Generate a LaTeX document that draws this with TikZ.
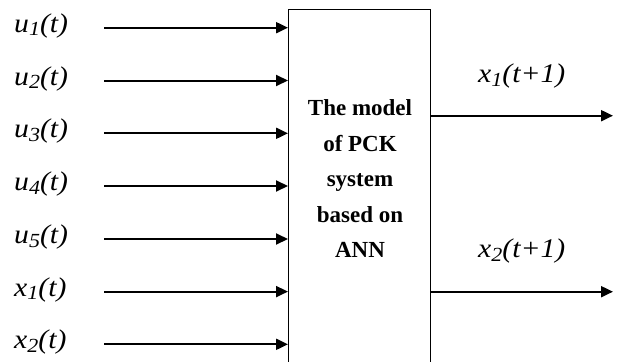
\documentclass[tikz,border=0pt]{standalone}
\usepackage{fontspec}
\setmainfont{Liberation Serif}
\newfontfamily\widefont[FakeStretch=1.1]{Liberation Serif}
\newcommand{\sbs}[1]{\raisebox{-3.5pt}{\fontsize{20}{20}\selectfont #1}}
\usetikzlibrary{arrows.meta}
\begin{document}
\begin{tikzpicture}[x=1pt,y=-1pt,
  lbl/.style={anchor=base west,inner sep=0pt,font=\widefont\fontsize{27}{29}\selectfont\itshape},
  arr/.style={line width=2pt,-{Triangle[length=12pt,width=11pt]}},
  modelbox/.style={draw,line width=1pt,minimum width=142pt,minimum height=360pt,anchor=north west,inner sep=0pt}]
\useasboundingbox (0,0) rectangle (617,361);
\clip (0,0) rectangle (617,361);
\fill[white] (0,0) rectangle (617,361);
\node[modelbox] (box) at (288,9.5) {};
\node[align=center,inner sep=0pt,font=\fontsize{23}{35.5}\selectfont\bfseries] (txt) at (360,179)
  {The model\\of PCK\\system\\based on\\ANN};
% inputs
\foreach \n/\y/\lab in {a/27.7/u\sbs{1}(t), b/80.5/u\sbs{2}(t), c/133.3/u\sbs{3}(t), d/186/u\sbs{4}(t), e/239/u\sbs{5}(t), f/291.6/x\sbs{1}(t), g/344.3/x\sbs{2}(t)}{
  \coordinate (s\n) at (104,\y);
  \node[lbl] (l\n) at (14,\y+4.5) {\lab};
  \draw[arr] (s\n) -- (s\n -| box.west);
}
% outputs
\coordinate (o1) at (613,115.7);
\coordinate (o2) at (613,291.7);
\draw[arr] (o1 -| box.east) -- (o1);
\draw[arr] (o2 -| box.east) -- (o2);
\node[lbl] (ol1) at (478,82.5) {x\sbs{1}(t+1)};
\node[lbl] (ol2) at (478,257.5) {x\sbs{2}(t+1)};
\end{tikzpicture}
\end{document}
